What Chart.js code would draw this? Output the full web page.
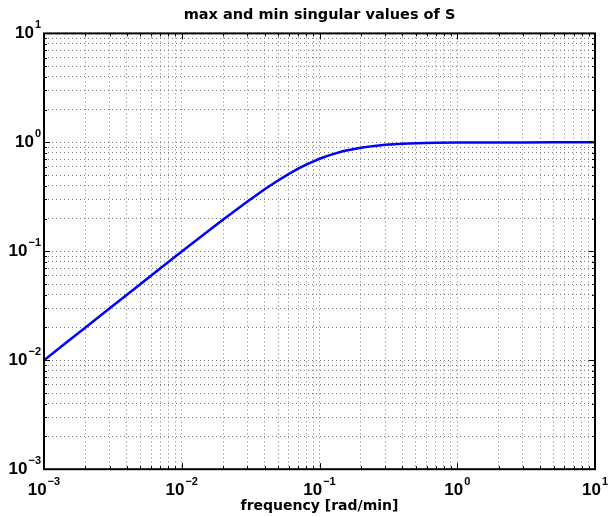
<!DOCTYPE html>
<html>
<head>
<meta charset="utf-8">
<script src="https://cdn.jsdelivr.net/npm/chart.js@4"></script>
<style>
  html, body { margin: 0; padding: 0; background: #fff; }
  #wrap { width: 608px; height: 517px; }
</style>
</head>
<body>
<div id="wrap"><canvas id="grafica"></canvas></div>
<script>
// frequencies [rad/min] and singular value
const frecuencias = [0.001, 0.0015, 0.002, 0.003, 0.005, 0.007, 0.01, 0.015, 0.02, 0.03,
  0.04, 0.05, 0.06, 0.07, 0.08, 0.1, 0.12, 0.15, 0.2, 0.25, 0.3, 0.4, 0.5, 0.7,
  1, 1.5, 2, 3, 5, 10];
const valoresS = [0.0100, 0.0150, 0.0200, 0.0300, 0.0499, 0.0698, 0.0995, 0.148, 0.196, 0.287,
  0.371, 0.447, 0.514, 0.573, 0.625, 0.707, 0.768, 0.832, 0.894, 0.928, 0.949, 0.970, 0.981, 0.990,
  0.995, 0.998, 0.999, 0.9994, 0.9998, 1.0];
const exponentesX = [-3, -2, -1, 0, 1];
const exponentesY = [-3, -2, -1, 0, 1];

const fuente = '"DejaVu Sans", Arial, Helvetica, sans-serif';
const fuenteNum = '"Liberation Sans", Arial, Helvetica, sans-serif';

// ticks 1..9 x 10^k for the dotted grid
const ticksLog = (exps) => {
  const t = [];
  for (let k = exps[0]; k < exps[exps.length - 1]; k++) {
    for (let m = 1; m <= 9; m++) t.push({ value: m * Math.pow(10, k) });
  }
  t.push({ value: Math.pow(10, exps[exps.length - 1]) });
  return t;
};

// draws the box, inward tick marks and the 10^n labels
const marcoYEtiquetas = {
  id: 'marcoYEtiquetas',
  afterDraw(chart) {
    const { ctx, chartArea: a, scales } = chart;
    ctx.save();
    ctx.strokeStyle = '#000';
    ctx.lineWidth = 1;
    // minor/major tick marks on all four sides
    scales.x.ticks.forEach(t => {
      const px = Math.round(scales.x.getPixelForValue(t.value)) + 0.5;
      const mayor = Math.abs(Math.log10(t.value) - Math.round(Math.log10(t.value))) < 1e-9;
      const l = mayor ? 6 : 3;
      ctx.beginPath();
      ctx.moveTo(px, a.bottom); ctx.lineTo(px, a.bottom - l);
      ctx.moveTo(px, a.top); ctx.lineTo(px, a.top + l);
      ctx.stroke();
    });
    scales.y.ticks.forEach(t => {
      const py = Math.round(scales.y.getPixelForValue(t.value)) + 0.5;
      const mayor = Math.abs(Math.log10(t.value) - Math.round(Math.log10(t.value))) < 1e-9;
      const l = mayor ? 6 : 3;
      ctx.beginPath();
      ctx.moveTo(a.left, py); ctx.lineTo(a.left + l, py);
      ctx.moveTo(a.right, py); ctx.lineTo(a.right - l, py);
      ctx.stroke();
    });
    ctx.lineWidth = 2;
    ctx.strokeRect(a.left, a.top, a.right - a.left, a.bottom - a.top);

    const base = 'bold 17px ' + fuenteNum;
    const sup = 'bold 11px ' + fuenteNum;
    const texto = (e) => String(e).replace('-', '\u2212');
    const medir = (e) => {
      ctx.font = base; const wb = ctx.measureText('10').width;
      ctx.font = sup; const we = ctx.measureText(texto(e)).width;
      return [wb, we];
    };
    const escribir = (x, y, e) => {
      const [wb] = medir(e);
      ctx.fillStyle = '#000';
      ctx.textBaseline = 'alphabetic';
      ctx.textAlign = 'left';
      ctx.font = base; ctx.fillText('10', x, y);
      ctx.font = sup; ctx.fillText(texto(e), x + wb + 1, y - 10);
    };
    exponentesX.forEach(e => {
      const px = scales.x.getPixelForValue(Math.pow(10, e));
      const [wb, we] = medir(e);
      escribir(px - (wb + we + 1) / 2, a.bottom + 26, e);
    });
    exponentesY.forEach(e => {
      const py = scales.y.getPixelForValue(Math.pow(10, e));
      const [wb, we] = medir(e);
      escribir(a.left - 3 - (wb + we + 1), py + 5, e);
    });
    ctx.restore();
  }
};

const ejeLog = (exps) => ({
  type: 'logarithmic',
  min: Math.pow(10, exps[0]),
  max: Math.pow(10, exps[exps.length - 1]),
  afterBuildTicks: (scale) => { scale.ticks = ticksLog(exps); },
  ticks: { display: false },
  grid: { color: '#777', lineWidth: 1, drawTicks: false },
  border: { display: false, dash: [1, 3] }
});

new Chart(document.getElementById('grafica'), {
  type: 'line',
  data: {
    datasets: [{
      data: frecuencias.map((f, i) => ({ x: f, y: valoresS[i] })),
      borderColor: '#0000ff',
      borderWidth: 2.5,
      pointRadius: 0,
      tension: 0,
      fill: false
    }]
  },
  options: {
    responsive: true,
    maintainAspectRatio: false,
    animation: false,
    layout: { padding: { left: 44, right: 13, top: 0, bottom: 0 } },
    plugins: {
      legend: { display: false },
      tooltip: { enabled: false },
      title: {
        display: true,
        text: 'max and min singular values of S',
        color: '#000',
        font: { family: fuente, size: 14.5, weight: 'bold' },
        padding: { top: 7, bottom: 9 }
      }
    },
    scales: {
      x: Object.assign(ejeLog(exponentesX), {
        title: {
          display: true,
          text: 'frequency [rad/min]',
          color: '#000',
          font: { family: fuente, size: 14, weight: 'bold' },
          padding: { top: 29, bottom: 2 }
        }
      }),
      y: ejeLog(exponentesY)
    }
  },
  plugins: [marcoYEtiquetas]
});
</script>
</body>
</html>
